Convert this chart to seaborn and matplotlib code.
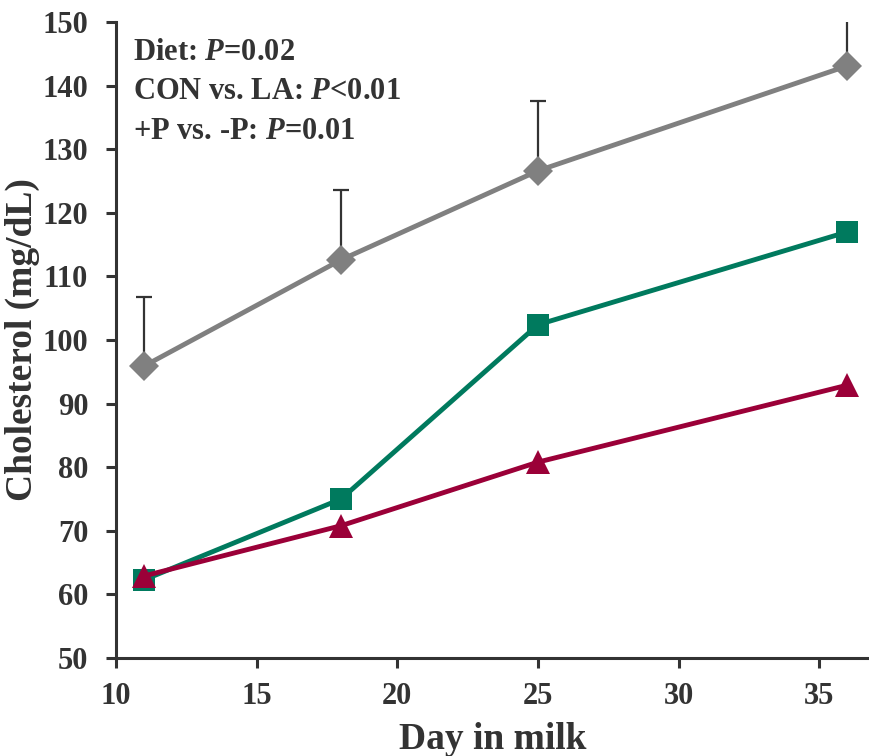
import matplotlib
matplotlib.use('Agg')
import numpy as np
import pandas as pd
import matplotlib.pyplot as plt
import seaborn as sns

# data
days = [11, 18, 25, 36]
con = [95.9, 112.6, 126.6, 143.1]        # gray diamonds
con_err = [10.8, 11.0, 11.0, 10.6]       # upper SE only
la_p = [62.3, 75.0, 102.4, 117.0]        # green squares
la_np = [62.9, 70.8, 80.8, 92.9]         # red triangles

ink = "#333333"
sns.set_style("white")
plt.rcParams['font.family'] = ['Liberation Serif', 'DejaVu Serif']
plt.rcParams['font.weight'] = 'bold'
plt.rcParams['mathtext.fontset'] = 'custom'
plt.rcParams['mathtext.it'] = 'Liberation Serif:italic:bold'
plt.rcParams['mathtext.rm'] = 'Liberation Serif:bold'

df = pd.DataFrame({"day": days * 3,
                   "chol": con + la_p + la_np,
                   "trt": ["CON"] * 4 + ["LA+P"] * 4 + ["LA-P"] * 4})

fig = plt.figure(figsize=(8.7, 7.56), dpi=100)
ax = fig.add_axes([0.1333, 0.1296, 0.8667, 0.8414])

ax.errorbar(days, con, yerr=[np.zeros(4), con_err], fmt="none", ecolor=ink,
            elinewidth=1.6, capsize=6, capthick=1.6, zorder=1, clip_on=True)

styles = {"CON": ("#808080", "D", 15),
          "LA+P": ("#007A5E", "s", 16),
          "LA-P": ("#9B0038", "^", 17)}
for trt, (col, mk, ms) in styles.items():
    sub = df[df["trt"] == trt]
    sns.lineplot(data=sub, x="day", y="chol", ax=ax, color=col, marker=mk,
                 markersize=ms, markeredgewidth=0, linewidth=3.5, zorder=3,
                 clip_on=False)

ax.set_xlim(10, 36.8)
ax.set_ylim(50, 150)
ax.set_xticks([10, 15, 20, 25, 30, 35])
ax.set_yticks(range(50, 151, 10))
for s in ["top", "right"]:
    ax.spines[s].set_visible(False)
for s in ["left", "bottom"]:
    ax.spines[s].set_color(ink)
    ax.spines[s].set_linewidth(2.2)
ax.tick_params(axis="both", direction="out", length=7, width=2.2, color=ink,
               labelsize=22, labelcolor=ink, bottom=True, left=True)
ax.tick_params(axis="x", pad=10)
ax.tick_params(axis="y", pad=13)
for lab in ax.get_xticklabels() + ax.get_yticklabels():
    lab.set_fontweight("bold")
ax.set_xlabel("Day in milk", fontsize=27, fontweight="bold", color=ink, labelpad=8)
ax.set_ylabel("Cholesterol (mg/dL)", fontsize=27, fontweight="bold", color=ink, labelpad=2)

lines = [r"Diet: $P$=0.02",
         r"CON vs. LA: $P$<0.01",
         r"+P vs. -P: $P$=0.01"]
for i, t in enumerate(lines):
    ax.text(0.022, 0.975 - i * 0.062, t, transform=ax.transAxes, fontsize=22,
            fontweight="bold", color=ink, va="top", ha="left")

fig.savefig("out.png", dpi=100)
